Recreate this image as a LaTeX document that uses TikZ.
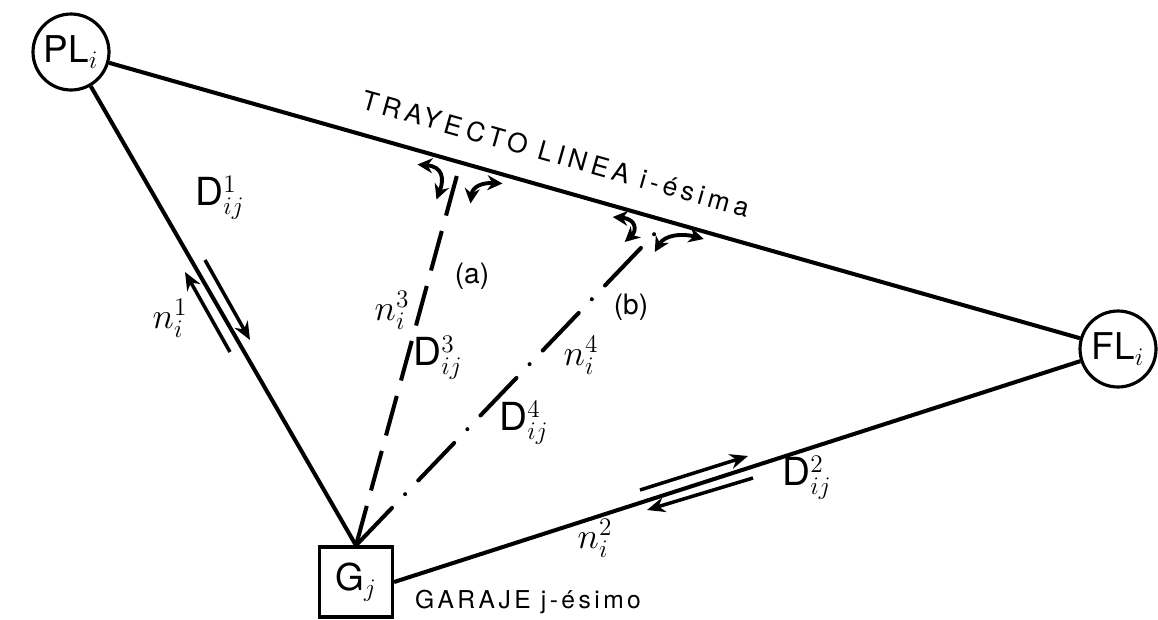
\documentclass[tikz,border=0pt]{standalone}
\usepackage{fontspec}
\setsansfont{TeX Gyre Heros}
\newfontfamily\handfont[LetterSpace=14]{TeX Gyre Heros}
\newfontfamily\wideHand[LetterSpace=17]{TeX Gyre Heros}
\usetikzlibrary{arrows.meta, calc, positioning}

\begin{document}
\begin{tikzpicture}[
  x=0.02cm, y=-0.02cm, >=Stealth,
  stop/.style  = {circle, draw, line width=1.8pt, minimum size=1.52cm,
                  inner sep=0pt, font=\fontsize{21}{24}\selectfont},
  depot/.style = {rectangle, draw, line width=1.8pt, minimum width=1.46cm,
                  minimum height=1.4cm, font=\fontsize{21}{24}\selectfont},
  road/.style  = {line width=2.3pt},
  linka/.style = {line width=2.3pt, dash pattern=on 0.82cm off 0.32cm},
  linkb/.style = {line width=2.3pt, line cap=round,
                  dash pattern=on 1.04cm off 0.38cm on 0pt off 0.38cm},
  flow/.style  = {line width=2pt, -{Stealth[length=3.6mm,width=3mm]}},
  turn/.style  = {line width=2.2pt,
                  {Stealth[length=3mm,width=3mm]}-{Stealth[length=3mm,width=3mm]}},
  lbl/.style   = {inner sep=1pt, font=\fontsize{22}{26}\selectfont},
  tag/.style   = {inner sep=1pt, font=\sffamily\fontsize{16}{19}\selectfont},
  txt/.style   = {inner sep=1pt, font=\handfont\fontsize{14}{16}\selectfont}
]
  \useasboundingbox (0,0) rectangle (1158,619);

  % stops and garage
  \node[stop]  (PL) at (71,52)    {$\mathsf{PL}_i$};
  \node[stop]  (FL) at (1118,349) {$\mathsf{FL}_i$};
  \node[depot] (G)  at (356,582)  {$\mathsf{G}_j$};

  % line route and links to the garage
  \draw[road] (PL) -- (FL);
  \draw[road] (PL) -- (G.north);
  \draw[road] (G.east) -- (FL);

  \coordinate (ja) at ($(PL)!0.372!(FL)$);
  \coordinate (jb) at ($(PL)!0.569!(FL)$);
  \draw[linka] (G.north) -- (ja);
  \draw[linkb] (G.north) -- (jb);

  % turning movements
  \draw[turn] ($(ja)+(-43,2)$) .. controls ($(ja)+(-18,4)$) and ($(ja)+(-16,16)$) .. ($(ja)+(-24,37)$);
  \draw[turn] ($(ja)+(10,41)$) .. controls ($(ja)+(12,24)$) and ($(ja)+(22,20)$) .. ($(ja)+(42,21)$);
  \draw[turn] ($(jb)+(-54,-4)$) .. controls ($(jb)+(-30,-2)$) and ($(jb)+(-30,10)$) .. ($(jb)+(-42,21)$);
  \draw[turn] ($(jb)+(-12,31)$) .. controls ($(jb)+(-2,14)$) and ($(jb)+(15,12)$) .. ($(jb)+(37,18)$);

  % flows along the links
  \draw[flow] (205,260) -- (250,340);
  \draw[flow] (230,352) -- (185,272);
  \draw[flow] (640,490) -- (748,456);
  \draw[flow] (753,478) -- (647,510);

  % labels
  \node[lbl] (d1) at (220,198) {$\mathsf{D}^{1}_{ij}$};
  \node[lbl] (n1) at (170,318) {$n^{1}_{i}$};
  \node[lbl] (n3) at (392,310) {$n^{3}_{i}$};
  \node[lbl] (d3) at (438,358) {$\mathsf{D}^{3}_{ij}$};
  \node[tag] (la) at (472,276) {(a)};
  \node[lbl] (d4) at (524,423) {$\mathsf{D}^{4}_{ij}$};
  \node[lbl] (n4) at (581,355) {$n^{4}_{i}$};
  \node[tag] (lb) at (631,307) {(b)};
  \node[lbl] (d2) at (807,478) {$\mathsf{D}^{2}_{ij}$};
  \node[lbl] (n2) at (595,538) {$n^{2}_{i}$};
  \node[txt] (gar) at (528,602) {GARAJE j-ésimo};
  \node[font=\wideHand\fontsize{15}{17}\selectfont, inner sep=1pt,
        rotate=-15.8] (tray) at (556,154) {TRAYECTO LINEA i-ésima};
\end{tikzpicture}
\end{document}
